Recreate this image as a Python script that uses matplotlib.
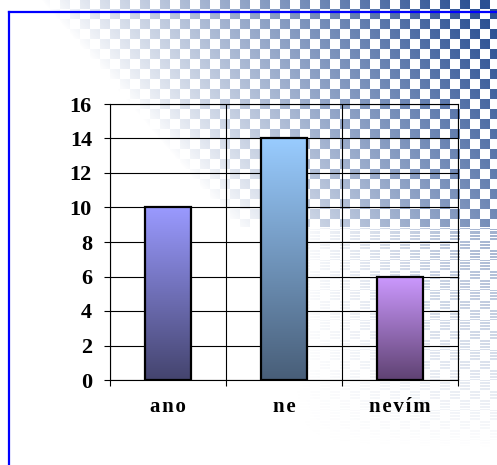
import numpy as np
import matplotlib.pyplot as plt
from matplotlib.lines import Line2D
from matplotlib.colors import to_rgb

# chart data
categories = ['ano', 'ne', 'nevím']
values = [10, 14, 6]
top_colors = ['#9a9aff', '#99ccff', '#cc99ff']
bottom_colors = ['#44446e', '#485e78', '#5f4272']
y_ticks = [0, 2, 4, 6, 8, 10, 12, 14, 16]

W, H = 497, 465
fig = plt.figure(figsize=(W / 100, H / 100), dpi=100)
fig.patch.set_facecolor('white')

# checkered gradient backdrop (top-right corner)
yy, xx = np.mgrid[0:H, 0:W]
cell = 10
checker = ((xx // cell) + (yy // cell)) % 2 == 0
alpha = np.zeros((H, W))
d = np.clip((xx - 0.85 * yy - 40) / 430.0, 0, 1) ** 0.85
upper = yy < 228
alpha[upper] = d[upper]
d2 = np.clip((xx - 290) / 200.0, 0, 1) * np.clip(1 - (yy - 228) / 220.0, 0, 1)
lower = (~upper) & (yy % 3 != 0)
alpha[lower] = 0.45 * d2[lower]
alpha[~checker] = 0
bg = np.zeros((H, W, 4))
bg[..., :3] = to_rgb('#2b5093')
bg[..., 3] = alpha
bg_ax = fig.add_axes([0, 0, 1, 1], zorder=-1)
bg_ax.imshow(bg, aspect='auto', interpolation='nearest')
bg_ax.axis('off')

# blue frame (left and top edges)
fx, fy = 9 / W, 1 - 12 / H
fig.add_artist(Line2D([fx, fx], [0, fy], color='#0000ff', lw=1.6, transform=fig.transFigure))
fig.add_artist(Line2D([fx, 1], [fy, fy], color='#0000ff', lw=1.6, transform=fig.transFigure))

ax = fig.add_axes([110 / W, 85 / H, 348 / W, 276 / H])
ax.patch.set_visible(False)

x = np.arange(len(categories))
bars = ax.bar(x, values, width=0.4, facecolor='none', edgecolor='black', linewidth=1.6, zorder=3)
for bar, c_top, c_bot in zip(bars, top_colors, bottom_colors):
    grad = np.linspace(0, 1, 256)[:, None]
    top = np.array(to_rgb(c_top))
    bot = np.array(to_rgb(c_bot))
    img = top[None, None, :] * (1 - grad[..., None]) + bot[None, None, :] * grad[..., None]
    x0 = bar.get_x()
    im = ax.imshow(img, extent=[x0, x0 + bar.get_width(), 0, bar.get_height()],
                   aspect='auto', zorder=2.5, interpolation='bilinear')
    im.set_clip_path(bar)

ax.set_xlim(-0.5, 2.5)
ax.set_ylim(0, 16)
ax.set_yticks(y_ticks)
ax.set_xticks(x)
ax.set_xticklabels(['\u200a'.join(c) for c in categories])
ax.set_xticks([-0.5, 0.5, 1.5, 2.5], minor=True)

ax.tick_params(axis='y', length=4.5, width=0.8, direction='out', pad=8.5, labelsize=16)
ax.tick_params(axis='x', which='major', length=0, pad=12, labelsize=15)
ax.tick_params(axis='x', which='minor', length=4.5, width=0.8, direction='out')
for lab in ax.get_yticklabels() + ax.get_xticklabels():
    lab.set_fontfamily('Liberation Serif')
    lab.set_fontweight('bold')

ax.set_axisbelow(True)
ax.grid(axis='y', which='major', color='black', linewidth=0.8)
ax.grid(axis='x', which='minor', color='black', linewidth=0.8)
for sp in ax.spines.values():
    sp.set_color('black')
    sp.set_linewidth(0.8)

plt.savefig('out.png', dpi=100)
